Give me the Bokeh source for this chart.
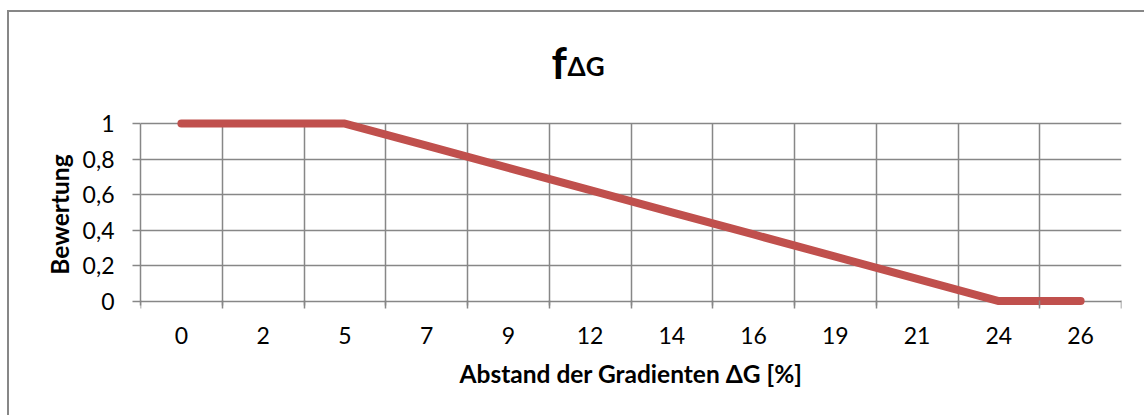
from bokeh.plotting import figure
from bokeh.models import Range1d, FixedTicker, LinearAxis, Label, Grid
from bokeh.embed import file_html
from bokeh.resources import INLINE

# ---- data ----
categories = ["0", "2", "5", "7", "9", "12", "14", "16", "19", "21", "24", "26"]
bewertung = [1, 1, 1, 0.875, 0.75, 0.625, 0.5, 0.375, 0.25, 0.125, 0, 0]
y_ticks = [0, 0.2, 0.4, 0.6, 0.8, 1.0]
y_tick_labels = ["0", "0,2", "0,4", "0,6", "0,8", "1"]

FONT = "Lato"
GRID = "#878787"
Y_LO, Y_HI = -0.0254, 1.0

xs = list(range(len(categories)))

p = figure(
    width=1137, height=405,
    x_range=Range1d(-0.5, len(categories) - 0.5),
    y_range=Range1d(-0.549, 1.524),
    output_backend="svg", toolbar_location=None,
    x_axis_type=None, y_axis_type=None,
    min_border_left=131, min_border_right=25,
    min_border_top=18, min_border_bottom=19,
    background_fill_color="white", border_fill_color="white",
    outline_line_color=None,
    styles={"border-left": "2px solid #878787",
            "border-top": "2px solid #878787",
            "margin-top": "10px", "margin-left": "7px"},
)

# x axis (categories), pinned at the bottom of the plot area
xticker = FixedTicker(ticks=xs, minor_ticks=[i - 0.5 for i in range(len(categories) + 1)])
xaxis = LinearAxis(
    ticker=xticker,
    fixed_location=Y_LO,
    major_label_overrides={i: c for i, c in enumerate(categories)},
    axis_label="Abstand der Gradienten ΔG [%]",
)
xaxis.axis_line_color = None
xaxis.major_tick_line_color = None
xaxis.major_tick_out = 0
xaxis.major_tick_in = 0
xaxis.minor_tick_line_color = GRID
xaxis.minor_tick_line_width = 1.5
xaxis.minor_tick_out = 3
xaxis.minor_tick_in = 5
xaxis.major_label_standoff = 18
xaxis.major_label_text_font = FONT
xaxis.major_label_text_font_size = "23px"
xaxis.major_label_text_color = "black"
xaxis.axis_label_text_font = FONT
xaxis.axis_label_text_font_style = "bold"
xaxis.axis_label_text_font_size = "24.5px"
xaxis.axis_label_text_color = "black"
xaxis.axis_label_standoff = 12
p.add_layout(xaxis, "below")

# y axis
yticker = FixedTicker(ticks=y_ticks)
yaxis = LinearAxis(
    ticker=yticker,
    bounds=(Y_LO, Y_HI),
    major_label_overrides={t: l for t, l in zip(y_ticks, y_tick_labels)},
    axis_label="Bewertung",
)
yaxis.axis_line_color = GRID
yaxis.axis_line_width = 1.5
yaxis.major_tick_line_color = GRID
yaxis.major_tick_line_width = 1.5
yaxis.major_tick_out = 8
yaxis.major_tick_in = 0
yaxis.minor_tick_line_color = None
yaxis.major_label_standoff = 18
yaxis.major_label_text_font = FONT
yaxis.major_label_text_font_size = "23px"
yaxis.major_label_text_color = "black"
yaxis.axis_label_text_font = FONT
yaxis.axis_label_text_font_style = "bold"
yaxis.axis_label_text_font_size = "24.5px"
yaxis.axis_label_text_color = "black"
yaxis.axis_label_standoff = 6
p.add_layout(yaxis, "left")

# grids
xgrid = Grid(dimension=0, ticker=xticker, grid_line_color=None,
             minor_grid_line_color=GRID, minor_grid_line_width=1.5,
             cross_bounds=(Y_LO, Y_HI))
ygrid = Grid(dimension=1, ticker=yticker, grid_line_color=GRID, grid_line_width=1.5)
p.add_layout(xgrid)
p.add_layout(ygrid)

# series
p.line(xs, bewertung, line_color="#C0504D", line_width=8,
       line_cap="round", line_join="round")

# title  f_ΔG
p.add_layout(Label(x=5.5, y=1.343, x_offset=-79.5, text="f",
                   text_font=FONT, text_font_style="bold", text_font_size="43px",
                   text_color="black", text_baseline="alphabetic", text_align="left"))
p.add_layout(Label(x=5.5, y=1.326, x_offset=-63.5, text="ΔG",
                   text_font=FONT, text_font_style="bold", text_font_size="26px",
                   text_color="black", text_baseline="alphabetic", text_align="left"))

open("out.html", "w").write(file_html(p, INLINE))
